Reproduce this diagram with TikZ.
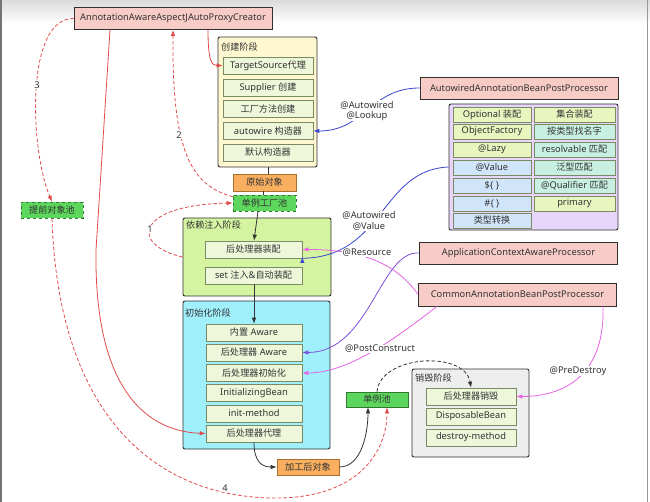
\documentclass[tikz,border=0pt]{standalone}
\usepackage{fontspec}
\setmainfont{Noto Sans}
\newfontfamily\cjk{Noto Sans CJK SC}[Scale=0.98]
\newcommand\zhs[1]{{\cjk #1}}
\usetikzlibrary{arrows.meta}
\definecolor{txt}{HTML}{333333}
\definecolor{contb}{HTML}{303030}
\definecolor{cellb}{HTML}{7A8A62}
\definecolor{cellf}{HTML}{EEF7DA}
\definecolor{pinkf}{HTML}{F8CCC6}
\definecolor{createf}{HTML}{FEF7D0}
\definecolor{dif}{HTML}{D5F4A2}
\definecolor{initf}{HTML}{A0F0FC}
\definecolor{destf}{HTML}{EEEEEE}
\definecolor{purf}{HTML}{E8D5FA}
\definecolor{ygf}{HTML}{E9F5BE}
\definecolor{bluef}{HTML}{D0E4FA}
\definecolor{mintf}{HTML}{C8F0E2}
\definecolor{greenf}{HTML}{5DD65D}
\definecolor{greenb}{HTML}{2E7A2E}
\definecolor{orangef}{HTML}{F9AE60}
\definecolor{orangeb}{HTML}{A8702E}
\definecolor{redl}{HTML}{E04A4A}
\definecolor{bluel}{HTML}{3A48D0}
\definecolor{violetl}{HTML}{8050D8}
\definecolor{magl}{HTML}{E464E4}
\definecolor{blackl}{HTML}{333333}
\tikzset{
  base/.style={inner sep=0pt, text=txt, font=\fontsize{9.3}{10.5}\selectfont},
  cell/.style={base, draw=cellb, fill=cellf, line width=0.6pt, minimum width=90pt, minimum height=17pt},
  pcell/.style={base, draw=cellb, line width=0.6pt, minimum width=78pt, minimum height=15pt},
  cont/.style={draw=contb, line width=0.9pt, rounded corners=2pt, inner sep=0pt},
  proc/.style={base, draw=contb, fill=pinkf, line width=0.8pt, minimum width=198pt, minimum height=22pt},
  pool/.style={base, fill=greenf, draw=greenb, line width=0.6pt, minimum width=62pt, minimum height=16pt},
  obj/.style={base, fill=orangef, draw=orangeb, line width=0.6pt, minimum width=63pt, minimum height=17pt},
  clabel/.style={base, anchor=west},
  elabel/.style={base, fill=white, inner sep=0.6pt, align=center},
  conn/.style={line width=0.8pt},
  arr/.style={-{Latex[length=6pt,width=4.5pt]}},
  dsh/.style={dash pattern=on 3.5pt off 2.2pt},
}
\begin{document}
\begin{tikzpicture}[x=1pt,y=-1pt]
\useasboundingbox (0,0) rectangle (650,502);
\fill[white] (0,0) rectangle (650,502);
\shade[top color=black!14, bottom color=white] (0,0) rectangle (650,24);
\draw[black!55, line width=1.6pt] (0.8,0) -- (0.8,502);
\draw[black!40, line width=1pt] (647.5,0) -- (647.5,502);

% ---------- containers ----------
\node[cont, fill=createf, minimum width=99pt, minimum height=130pt] (createcont) at (267.5,102) {};
\node[clabel] (lcreate) at (221,47) {\zhs{创建阶段}};
\node[cont, fill=dif, minimum width=148pt, minimum height=78pt] (dicont) at (257,257) {};
\node[clabel] (ldi) at (186,225) {\zhs{依赖注入阶段}};
\node[cont, fill=initf, minimum width=147pt, minimum height=148pt] (initcont) at (256.5,375) {};
\node[clabel] (linit) at (185,313) {\zhs{初始化阶段}};
\node[cont, fill=destf, minimum width=117pt, minimum height=88pt] (destcont) at (470.5,413) {};
\node[clabel] (ldest) at (415,378) {\zhs{销毁阶段}};
\node[cont, fill=purf, minimum width=169pt, minimum height=126pt] (purcont) at (533.5,167) {};

% ---------- processors ----------
\node[proc] (creator) at (173,18.5) {AnnotationAwareAspectJAutoProxyCreator};
\node[proc] (awproc) at (519,88) {AutowiredAnnotationBeanPostProcessor};
\node[proc] (appctx) at (518.5,253) {ApplicationContextAwareProcessor};
\node[proc, minimum height=23pt] (common) at (517.5,294.5) {CommonAnnotationBeanPostProcessor};

% ---------- create stage ----------
\node[cell] (ts) at (268,65.5) {TargetSource\zhs{代理}};
\node[cell] (supp) at (268,87.5) {Supplier \zhs{创建}};
\node[cell] (fm) at (268,109) {\zhs{工厂方法创建}};
\node[cell] (actor) at (268,131) {autowire \zhs{构造器}};
\node[cell] (dctor) at (268,152.5) {\zhs{默认构造器}};

\node[obj] (ori) at (264.5,182.5) {\zhs{原始对象}};
\node[pool, dashed, minimum width=63pt] (sfp) at (264.5,203) {\zhs{单例工厂池}};
\node[pool, dashed] (epool) at (52,210) {\zhs{提前对象池}};

% ---------- DI stage ----------
\node[cell, minimum width=97pt] (pa) at (253.5,249.5) {\zhs{后处理器装配}};
\node[cell, minimum width=97pt] (setinj) at (253.5,275.5) {set \zhs{注入}\&\zhs{自动装配}};

% ---------- init stage ----------
\node[cell, minimum width=96pt] (builtin) at (254,332.5) {\zhs{内置} Aware};
\node[cell, minimum width=96pt] (pawr) at (254,352.5) {\zhs{后处理器} Aware};
\node[cell, minimum width=96pt] (pinit) at (254,373) {\zhs{后处理器初始化}};
\node[cell, minimum width=96pt] (ib) at (254,393) {InitializingBean};
\node[cell, minimum width=96pt] (im) at (254,413.5) {init-method};
\node[cell, minimum width=96pt] (pp) at (254,433.5) {\zhs{后处理器代理}};

\node[obj, minimum width=62pt, minimum height=16pt] (processed) at (308,467) {\zhs{加工后对象}};
\node[pool, minimum height=15pt] (spool) at (377,399.5) {\zhs{单例池}};

% ---------- destroy stage ----------
\node[cell] (pdestroy) at (471,396.5) {\zhs{后处理器销毁}};
\node[cell] (db) at (471,416.5) {DisposableBean};
\node[cell] (dm) at (471,437.5) {destroy-method};

% ---------- autowire detail cells ----------
\node[pcell, fill=ygf] (c11) at (492,114.5) {Optional \zhs{装配}};
\node[pcell, fill=ygf] (c21) at (492,131.5) {ObjectFactory};
\node[pcell, fill=ygf] (c31) at (492,149.5) {@Lazy};
\node[pcell, fill=bluef] (c41) at (492,167.5) {@Value};
\node[pcell, fill=bluef] (c51) at (492,185.5) {\$\{ \}};
\node[pcell, fill=bluef] (c61) at (492,203.5) {\#\{ \}};
\node[pcell, fill=bluef] (c71) at (492,220.5) {\zhs{类型转换}};
\node[pcell, fill=ygf, minimum width=81pt] (c12) at (574.5,114.5) {\zhs{集合装配}};
\node[pcell, fill=mintf, minimum width=81pt] (c22) at (574.5,131.5) {\zhs{按类型找名字}};
\node[pcell, fill=mintf, minimum width=81pt] (c32) at (574.5,149.5) {resolvable \zhs{匹配}};
\node[pcell, fill=mintf, minimum width=81pt] (c42) at (574.5,167.5) {\zhs{泛型匹配}};
\node[pcell, fill=mintf, minimum width=81pt] (c52) at (574.5,185.5) {@Qualifier \zhs{匹配}};
\node[pcell, fill=ygf, minimum width=81pt] (c62) at (574.5,203.5) {primary};

% ---------- black flow ----------
\draw[conn, blackl] (createcont.south -| 268,0) -- (ori.north -| 268,0);
\draw[conn, blackl] (ori.south -| 263,0) -- (sfp.north -| 263,0);
\draw[conn, blackl, arr] (sfp.south -| 258,0) -- (pa.north -| 254,0);
\draw[conn, blackl, arr] (setinj.south -| 254,0) -- (builtin.north);
\draw[conn, blackl, arr] (pp.south) .. controls (254,462) and (262,467) .. (processed.west);
\draw[conn, blackl, arr] (processed.east) .. controls (362,467) and (368,432) .. (spool.south -| 368,0);
\draw[conn, blackl, dsh, arr] (spool.north) .. controls (380,355) and (465,350) .. (pdestroy.north);

% ---------- red ----------
\draw[conn, redl, arr] (creator.south -| 208,0) .. controls (208,62) and (212,65.5) .. (ts.west);
\draw[conn, redl, arr] (creator.south -| 110,0) -- (96,250) .. controls (94,380) and (140,431) .. (pp.west);
\draw[conn, redl, dsh, arr] (sfp.north west) ++(0,2) .. controls (190,185) and (172,150) .. (creator.south -| 173,0);
\draw[conn, redl, dsh, arr] (creator.west) .. controls (25,18) and (30,150) .. (epool.north);
\draw[conn, redl, dsh, arr] (epool.south) .. controls (58,410) and (150,495) .. (270,498) .. controls (360,500) and (387,450) .. (spool.south -| 387,0);
\draw[conn, redl, dsh, arr] (dicont.west) .. controls (130,245) and (135,205) .. (sfp.west);

% ---------- blue / violet / magenta ----------
\draw[conn, bluel, arr] (awproc.west) .. controls (370,88) and (365,131) .. (actor.east);
\draw[conn, bluel, arr] (purcont.west |- 0,167) .. controls (380,170) and (385,257) .. (pa.south east) ++(0,-1.5);
\draw[conn, magl, arr] (common.west) .. controls (395,262) and (360,249.5) .. (pa.east);
\draw[conn, violetl, arr] (appctx.west) .. controls (380,250) and (370,352.5) .. (pawr.east);
\draw[conn, magl, arr] (common.south -| 437,0) .. controls (400,335) and (350,373) .. (pinit.east);
\draw[conn, magl, arr] (common.south -| 603,0) .. controls (605,370) and (570,396.5) .. (pdestroy.east);

% ---------- edge labels ----------
\node[elabel] (l1) at (150,229) {1};
\node[elabel] (l2) at (179,135) {2};
\node[elabel] (l3) at (37,85) {3};
\node[elabel] (l4) at (225,488) {4};
\node[elabel] (lal) at (367,111) {@Autowired\\@Lookup};
\node[elabel] (lav) at (369,221) {@Autowired\\@Value};
\node[elabel] (lres) at (367,253) {@Resource};
\node[elabel] (lpc) at (380,349) {@PostConstruct};
\node[elabel] (lpd) at (578,371) {@PreDestroy};
\end{tikzpicture}
\end{document}
